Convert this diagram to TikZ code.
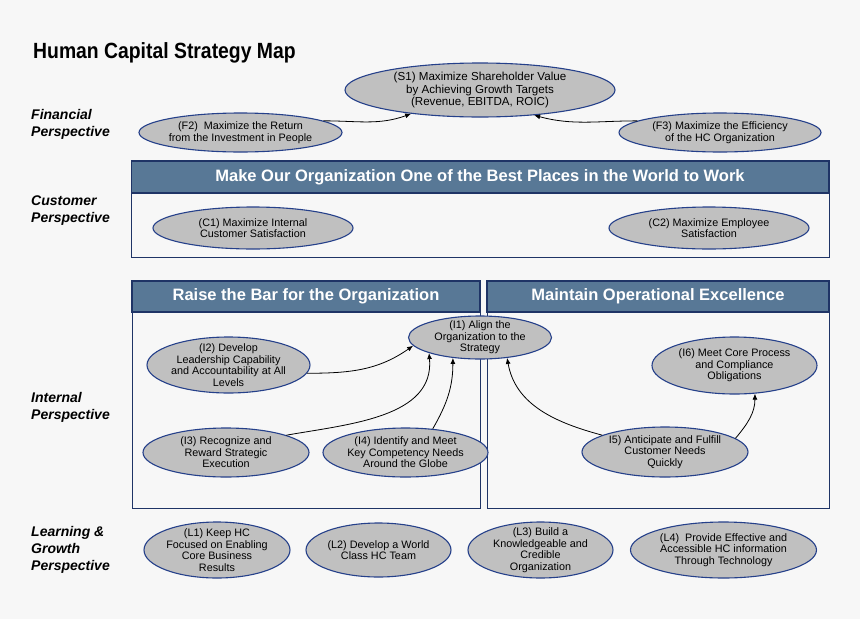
\documentclass[tikz,border=0pt]{standalone}
\usepackage{fontspec}
\setmainfont{Liberation Sans}
\newfontfamily\titlefont[FakeStretch=0.88]{Liberation Sans Bold}
\usetikzlibrary{shapes.geometric,arrows.meta}
\definecolor{bg}{HTML}{F7F7F7}
\definecolor{ovalfill}{HTML}{C0C0C0}
\definecolor{ovaldraw}{HTML}{25408A}
\definecolor{band}{HTML}{587896}
\definecolor{boxline}{HTML}{1F3466}
\begin{document}
\begin{tikzpicture}[x=1pt,y=-1pt,
  oval/.style={ellipse,draw=ovaldraw,fill=ovalfill,line width=1.1pt,
    inner xsep=-20pt,inner ysep=-16pt,align=center,
    font=\fontsize{10.8}{11.6}\selectfont},
  persp/.style={anchor=west,align=left,inner sep=0pt,font=\fontsize{14}{17}\selectfont\bfseries\itshape},
  framebox/.style={draw=boxline,line width=0.9pt,fill=bg},
  bandbox/.style={draw=boxline,line width=1.2pt,fill=band},
  bandtext/.style={text=white,font=\fontsize{16.5}{18}\selectfont\bfseries},
  link/.style={-{Latex[length=6pt,width=5pt]},line width=0.8pt,black}]
\fill[bg] (0,0) rectangle (860,619);
\useasboundingbox (0,0) rectangle (860,619);

% title
\node[anchor=base west,inner sep=0pt,font=\titlefont\fontsize{22}{24}\selectfont] (title) at (33,58) {Human Capital Strategy Map};

% perspectives
\node[persp] (pf) at (31,124.5) {Financial\\Perspective};
\node[persp] (pc) at (31,211) {Customer\\Perspective};
\node[persp] (pi) at (31,407.5) {Internal\\Perspective};
\node[persp] (pl) at (31,550) {Learning \&\\Growth\\Perspective};

% customer box
\draw[framebox] (131.5,161) rectangle (829,257);
\draw[bandbox] (131.5,161) rectangle (829,193);
\node[bandtext] (hc) at (480,177) {Make Our Organization One of the Best Places in the World to Work};

% internal boxes
\draw[framebox] (132,281) rectangle (480,508.5);
\draw[bandbox] (132,281) rectangle (480,312);
\node[bandtext] (hl) at (306,296.5) {Raise the Bar for the Organization};
\draw[framebox] (487,281) rectangle (829,508.5);
\draw[bandbox] (487,281) rectangle (829,312);
\node[bandtext] (hr) at (658,296.5) {Maintain Operational Excellence};

% financial
\node[oval,minimum width=270pt,minimum height=54pt,font=\fontsize{11.6}{12.5}\selectfont] (S1) at (480,90)
  {(S1) Maximize Shareholder Value\\by Achieving Growth Targets\\(Revenue, EBITDA, ROIC)};
\node[oval,minimum width=203pt,minimum height=39pt] (F2) at (240.5,132.5)
  {(F2)\ \ Maximize the Return\\from the Investment in People};
\node[oval,minimum width=202pt,minimum height=39pt] (F3) at (720,132.5)
  {(F3) Maximize the Efficiency\\of the HC Organization};

% customer
\node[oval,minimum width=200pt,minimum height=42pt] (C1) at (253,228)
  {(C1) Maximize Internal\\Customer Satisfaction};
\node[oval,minimum width=200pt,minimum height=42pt] (C2) at (709,228)
  {(C2) Maximize Employee\\Satisfaction};

% internal
\node[oval,minimum width=143pt,minimum height=43pt] (I1) at (480,337.5)
  {(I1) Align the\\Organization to the\\Strategy};
\node[oval,minimum width=163pt,minimum height=56pt] (I2) at (228.5,365)
  {(I2) Develop\\Leadership Capability\\and Accountability at All\\Levels};
\node[oval,minimum width=166pt,minimum height=49pt] (I3) at (226,452.5)
  {(I3) Recognize and\\Reward Strategic\\Execution};
\node[oval,minimum width=165pt,minimum height=49pt] (I4) at (405.5,452.5)
  {(I4) Identify and Meet\\Key Competency Needs\\Around the Globe};
\node[oval,minimum width=166pt,minimum height=50pt] (I5) at (665,452)
  {I5) Anticipate and Fulfill\\Customer Needs\\Quickly};
\node[oval,minimum width=165pt,minimum height=57pt] (I6) at (734.5,365.5)
  {(I6) Meet Core Process\\and Compliance\\Obligations};

% learning
\node[oval,minimum width=146pt,minimum height=56pt] (L1) at (217,550)
  {(L1) Keep HC\\Focused on Enabling\\Core Business\\Results};
\node[oval,minimum width=145pt,minimum height=54pt] (L2) at (378.5,550)
  {(L2) Develop a World\\Class HC Team};
\node[oval,minimum width=145pt,minimum height=56pt] (L3) at (540.5,550)
  {(L3) Build a\\Knowledgeable and\\Credible\\Organization};
\node[oval,minimum width=186pt,minimum height=56pt] (L4) at (723.5,550)
  {(L4)\ \ Provide Effective and\\Accessible HC information\\Through Technology};

% connectors
\draw[link] (F2.8) to[out=0,in=-160] (S1.199);
\draw[link] (F3.172) to[out=180,in=-15] (S1.335);
\draw[link] (I2.-6) to[out=0,in=-145] (I1.187);
\draw[link] (I3.16) to[out=10,in=-85] (I1.197);
\draw[link] (I4.41) to[out=60,in=-90] (I1.217);
\draw[link] (I5.165) to[out=165,in=-80] (I1.323);
\draw[link] (I5.11) to[out=50,in=-90] (I6.306);
\end{tikzpicture}
\end{document}
